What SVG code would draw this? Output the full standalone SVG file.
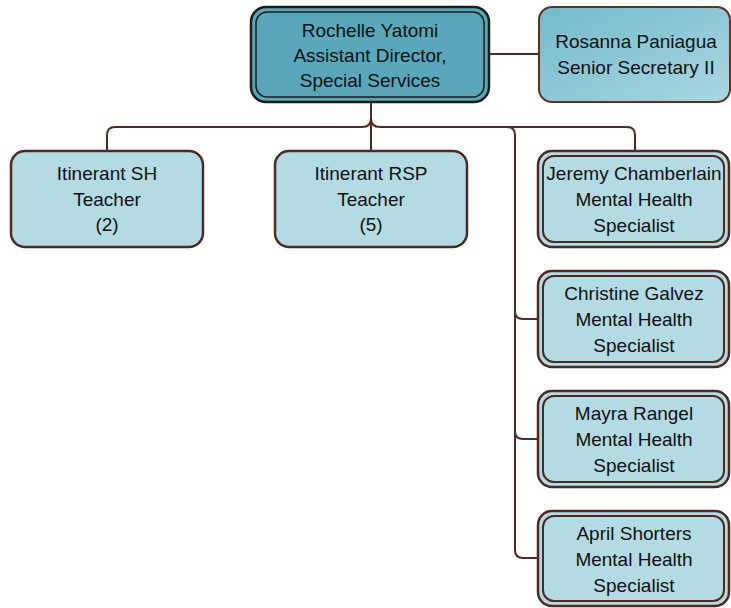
<svg xmlns="http://www.w3.org/2000/svg" width="731" height="608" viewBox="0 0 731 608">
<defs>
<linearGradient id="secg" x1="0" y1="0" x2="1" y2="1">
<stop offset="0" stop-color="#72bacc"/>
<stop offset="1" stop-color="#abd7e2"/>
</linearGradient>
<style>
.t{font-family:"Liberation Sans",Arial,sans-serif;font-size:19px;fill:#111;text-anchor:middle}
.box{fill:#b3dbe4;stroke:#4e2a20;stroke-width:2.5}
.inner{fill:none;stroke:#4e2a20;stroke-width:2}
.conn{fill:none;stroke:#4e2a20;stroke-width:2}
</style>
</defs>
<rect width="731" height="608" fill="#fff"/>
<g id="connectors">
<path class="conn" d="M371,102 V151"/>
<path class="conn" d="M107,151 V135 Q107,127 115,127 H362 Q371,127 371,118"/>
<path class="conn" d="M371,118 Q371,127 380,127 H627 Q635,127 635,135 V151"/>
<path class="conn" d="M500,127 H507 Q515,127 515,135 V550 Q515,558 523,558 H538"/>
<path class="conn" d="M515,311 Q515,319 523,319 H538"/>
<path class="conn" d="M515,431 Q515,439 523,439 H538"/>
<path class="conn" d="M489,54 H539"/>
</g>
<g id="director">
<rect x="251" y="7" width="238" height="95" rx="15" fill="#58a7ba" stroke="#1c1c1c" stroke-width="2.5"/>
<rect x="256" y="12" width="228" height="85" rx="11" fill="none" stroke="#1c1c1c" stroke-width="1.5"/>
<text class="t" x="370" y="37">Rochelle Yatomi</text>
<text class="t" x="370" y="62">Assistant Director,</text>
<text class="t" x="370" y="87">Special Services</text>
</g>
<g id="secretary">
<rect x="539" y="7" width="191" height="95" rx="13" fill="url(#secg)" stroke="#5a3325" stroke-width="2"/>
<text class="t" x="636" y="48">Rosanna Paniagua</text>
<text class="t" x="636" y="74">Senior Secretary II</text>
</g>
<g id="sh">
<rect class="box" x="11" y="151" width="192" height="96" rx="14"/>
<text class="t" x="107" y="180">Itinerant SH</text>
<text class="t" x="107" y="206">Teacher</text>
<text class="t" x="107" y="231">(2)</text>
</g>
<g id="rsp">
<rect class="box" x="275" y="151" width="192" height="96" rx="14"/>
<text class="t" x="371" y="180">Itinerant RSP</text>
<text class="t" x="371" y="206">Teacher</text>
<text class="t" x="371" y="231">(5)</text>
</g>
<g id="jeremy">
<rect class="box" x="538" y="151" width="191" height="96" rx="14"/>
<rect class="inner" x="543" y="156" width="181" height="86" rx="11"/>
<text class="t" x="634" y="180">Jeremy Chamberlain</text>
<text class="t" x="634" y="206">Mental Health</text>
<text class="t" x="634" y="232">Specialist</text>
</g>
<g id="christine">
<rect class="box" x="538" y="271" width="191" height="96" rx="14"/>
<rect class="inner" x="543" y="276" width="181" height="86" rx="11"/>
<text class="t" x="634" y="300">Christine Galvez</text>
<text class="t" x="634" y="326">Mental Health</text>
<text class="t" x="634" y="352">Specialist</text>
</g>
<g id="mayra">
<rect class="box" x="538" y="391" width="191" height="96" rx="14"/>
<rect class="inner" x="543" y="396" width="181" height="86" rx="11"/>
<text class="t" x="634" y="420">Mayra Rangel</text>
<text class="t" x="634" y="446">Mental Health</text>
<text class="t" x="634" y="472">Specialist</text>
</g>
<g id="april">
<rect class="box" x="538" y="511" width="191" height="95" rx="14"/>
<rect class="inner" x="543" y="516" width="181" height="85" rx="11"/>
<text class="t" x="634" y="540">April Shorters</text>
<text class="t" x="634" y="566">Mental Health</text>
<text class="t" x="634" y="592">Specialist</text>
</g>
</svg>
